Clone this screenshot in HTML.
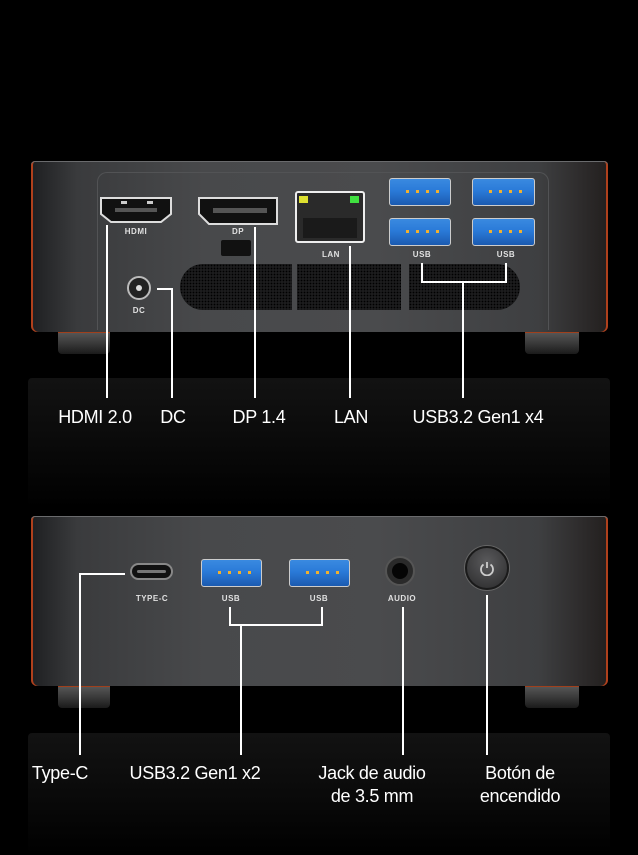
<!DOCTYPE html>
<html><head><meta charset="utf-8"><style>
*{margin:0;padding:0;box-sizing:border-box}
body{width:638px;height:855px;background:#000;position:relative;overflow:hidden;font-family:"Liberation Sans",sans-serif}
.a{position:absolute}
.body{background:linear-gradient(90deg,#1e1f21 0%,#3a3b3d 8%,#48494b 30%,#4a4b4d 60%,#3e3f41 88%,#231f1e 100%);border-radius:4px 4px 6px 6px;box-shadow:inset 0 1px 0 #6a6b6d,inset 2px 0 0 #b0401c,inset -2px 0 0 #b0401c}
.foot{background:linear-gradient(180deg,#555 0%,#333 60%,#1a1a1a 100%);border-radius:0 0 4px 4px;border-top:3px solid #a0401c}
.l{background:#fff}
.lbl{color:#fff;font-size:18px;text-align:center;line-height:23px;white-space:nowrap;letter-spacing:-.3px}
.sm{color:#e0e0e0;font-size:8px;font-weight:bold;text-align:center;letter-spacing:.5px}
.usb{border:1.5px solid #ccc;border-radius:3px;background:linear-gradient(180deg,#3a8ae0 0%,#2a7ad8 45%,#1b5ab0 100%)}
.usb i{position:absolute;top:11px;width:3px;height:3px;background:#f0b030}
.vent{background-color:#1c1c1d;background-image:radial-gradient(#000 35%,transparent 40%);background-size:3px 3px}
.refl{background:linear-gradient(180deg,#121212,#0a0a0a 50%,#000);border-radius:4px}
</style></head><body>
<div class="a refl" style="left:28px;top:378px;width:582px;height:130px"></div>
<div class="a refl" style="left:28px;top:733px;width:582px;height:122px"></div>

<div class="a foot" style="left:58px;top:330px;width:52px;height:24px"></div>
<div class="a foot" style="left:525px;top:330px;width:54px;height:24px"></div>
<div class="a body" style="left:31px;top:161px;width:577px;height:171px"></div>
<div class="a" style="left:97px;top:172px;width:452px;height:158px;border:1px solid #525355;border-radius:10px 10px 0 0;border-bottom:none"></div>
<svg class="a" style="left:99px;top:196px" width="74" height="28"><path d="M2 2H72V18L62 26H12L2 18Z" fill="#111" stroke="#ddd" stroke-width="2"/><rect x="16" y="12" width="42" height="4" fill="#555"/><rect x="22" y="5" width="6" height="3" fill="#ccc"/><rect x="48" y="5" width="6" height="3" fill="#ccc"/></svg>
<div class="a sm" style="left:100px;top:227px;width:72px">HDMI</div>
<svg class="a" style="left:197px;top:196px" width="82" height="30"><path d="M2 2H80V28H12L2 18Z" fill="#111" stroke="#ddd" stroke-width="2"/><rect x="16" y="12" width="54" height="5" fill="#555"/></svg>
<div class="a sm" style="left:198px;top:227px;width:80px">DP</div>
<div class="a" style="left:221px;top:240px;width:30px;height:16px;background:#111;border-radius:2px"></div>
<div class="a" style="left:295px;top:191px;width:70px;height:52px;border:2px solid #eee;border-radius:3px;background:#2a2a2a"></div>
<div class="a" style="left:299px;top:196px;width:9px;height:7px;background:#dde030"></div>
<div class="a" style="left:350px;top:196px;width:9px;height:7px;background:#40e040"></div>
<div class="a" style="left:303px;top:218px;width:54px;height:20px;background:#1a1a1a"></div>
<div class="a sm" style="left:315px;top:250px;width:32px">LAN</div>
<div class="a usb" style="left:389px;top:178px;width:62px;height:28px"><i style="left:16px"></i><i style="left:26px"></i><i style="left:36px"></i><i style="left:46px"></i></div>
<div class="a usb" style="left:472px;top:178px;width:63px;height:28px"><i style="left:16px"></i><i style="left:26px"></i><i style="left:36px"></i><i style="left:46px"></i></div>
<div class="a usb" style="left:389px;top:218px;width:62px;height:28px"><i style="left:16px"></i><i style="left:26px"></i><i style="left:36px"></i><i style="left:46px"></i></div>
<div class="a usb" style="left:472px;top:218px;width:63px;height:28px"><i style="left:16px"></i><i style="left:26px"></i><i style="left:36px"></i><i style="left:46px"></i></div>
<div class="a sm" style="left:407px;top:250px;width:30px">USB</div>
<div class="a sm" style="left:491px;top:250px;width:30px">USB</div>
<div class="a vent" style="left:180px;top:264px;width:112px;height:46px;border-radius:23px 0 0 23px"></div>
<div class="a vent" style="left:297px;top:264px;width:104px;height:46px"></div>
<div class="a vent" style="left:409px;top:264px;width:111px;height:46px;border-radius:0 23px 23px 0"></div>
<div class="a" style="left:127px;top:276px;width:24px;height:24px;border-radius:50%;background:#222;border:2px solid #bbb"></div>
<div class="a" style="left:136px;top:285px;width:6px;height:6px;border-radius:50%;background:#ddd"></div>
<div class="a sm" style="left:124px;top:306px;width:30px">DC</div>
<div class="a l" style="left:106px;top:225px;width:2px;height:173px"></div>
<div class="a l" style="left:157px;top:288px;width:16px;height:2px"></div>
<div class="a l" style="left:171px;top:288px;width:2px;height:110px"></div>
<div class="a l" style="left:254px;top:227px;width:2px;height:171px"></div>
<div class="a l" style="left:349px;top:246px;width:2px;height:152px"></div>
<div class="a l" style="left:421px;top:263px;width:2px;height:20px"></div>
<div class="a l" style="left:505px;top:263px;width:2px;height:20px"></div>
<div class="a l" style="left:421px;top:281px;width:86px;height:2px"></div>
<div class="a l" style="left:462px;top:281px;width:2px;height:117px"></div>
<div class="a lbl" style="left:45px;top:406px;width:100px">HDMI 2.0</div>
<div class="a lbl" style="left:150px;top:406px;width:46px">DC</div>
<div class="a lbl" style="left:222px;top:406px;width:74px">DP 1.4</div>
<div class="a lbl" style="left:321px;top:406px;width:60px">LAN</div>
<div class="a lbl" style="left:400px;top:406px;width:156px">USB3.2 Gen1 x4</div>

<div class="a foot" style="left:58px;top:684px;width:52px;height:24px"></div>
<div class="a foot" style="left:525px;top:684px;width:54px;height:24px"></div>
<div class="a body" style="left:31px;top:516px;width:577px;height:170px"></div>
<div class="a" style="left:130px;top:563px;width:43px;height:17px;border-radius:9px;background:#111;border:2px solid #888"></div>
<div class="a" style="left:137px;top:570px;width:29px;height:3px;background:#777;border-radius:2px"></div>
<div class="a sm" style="left:126px;top:594px;width:52px">TYPE-C</div>
<div class="a usb" style="left:201px;top:559px;width:61px;height:28px"><i style="left:16px"></i><i style="left:26px"></i><i style="left:36px"></i><i style="left:46px"></i></div>
<div class="a usb" style="left:289px;top:559px;width:61px;height:28px"><i style="left:16px"></i><i style="left:26px"></i><i style="left:36px"></i><i style="left:46px"></i></div>
<div class="a sm" style="left:216px;top:594px;width:30px">USB</div>
<div class="a sm" style="left:304px;top:594px;width:30px">USB</div>
<div class="a" style="left:385px;top:556px;width:30px;height:30px;border-radius:50%;background:#2a2a2a;border:2px solid #555"></div>
<div class="a" style="left:392px;top:563px;width:16px;height:16px;border-radius:50%;background:#050505"></div>
<div class="a sm" style="left:380px;top:594px;width:44px">AUDIO</div>
<div class="a" style="left:465px;top:546px;width:44px;height:44px;border-radius:50%;background:radial-gradient(circle at 50% 35%,#5a5a5c,#2a2a2b);border:2px solid #1a1a1a;box-shadow:0 0 0 1px #666"></div>
<svg class="a" style="left:479px;top:560px" width="16" height="16"><path d="M4.5 4.5A6 6 0 1 0 11.5 4.5" fill="none" stroke="#ccc" stroke-width="1.8"/><line x1="8" y1="2" x2="8" y2="8" stroke="#ccc" stroke-width="1.8"/></svg>
<div class="a l" style="left:79px;top:573px;width:46px;height:2px"></div>
<div class="a l" style="left:79px;top:573px;width:2px;height:182px"></div>
<div class="a l" style="left:229px;top:607px;width:2px;height:19px"></div>
<div class="a l" style="left:321px;top:607px;width:2px;height:19px"></div>
<div class="a l" style="left:229px;top:624px;width:94px;height:2px"></div>
<div class="a l" style="left:240px;top:624px;width:2px;height:131px"></div>
<div class="a l" style="left:402px;top:607px;width:2px;height:148px"></div>
<div class="a l" style="left:486px;top:595px;width:2px;height:160px"></div>
<div class="a lbl" style="left:20px;top:762px;width:80px">Type-C</div>
<div class="a lbl" style="left:120px;top:762px;width:150px">USB3.2 Gen1 x2</div>
<div class="a lbl" style="left:302px;top:762px;width:140px">Jack de audio<br>de 3.5 mm</div>
<div class="a lbl" style="left:460px;top:762px;width:120px">Botón de<br>encendido</div>
</body></html>
